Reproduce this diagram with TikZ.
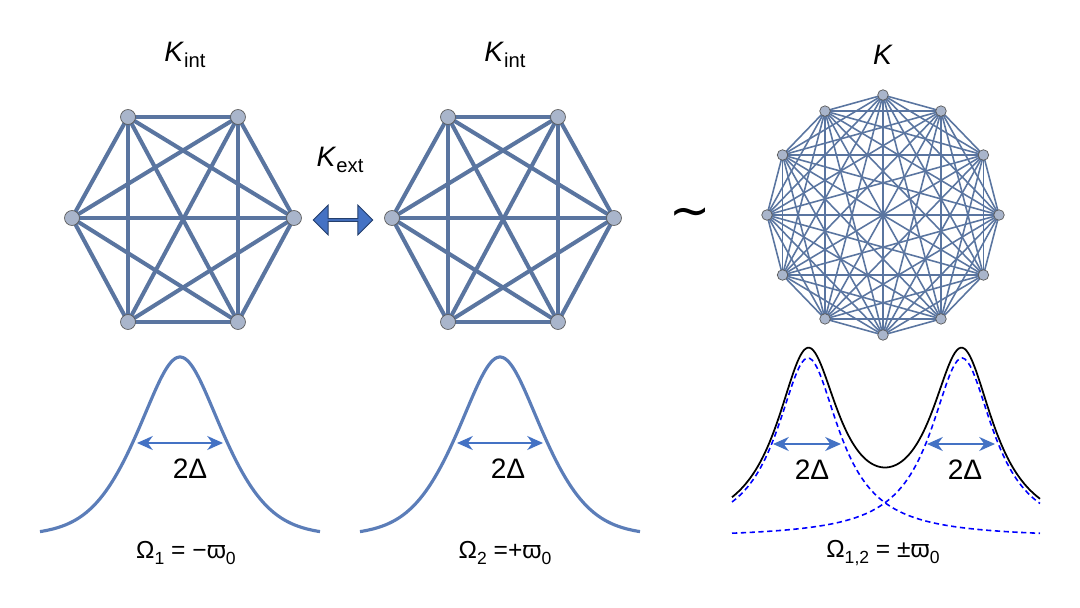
\documentclass[tikz,border=0pt]{standalone}
\usepackage{fontspec}
\setmainfont{Liberation Sans}
\newfontfamily\djv{DejaVu Sans}
\usetikzlibrary{arrows.meta,shapes.arrows}
\definecolor{edgec}{HTML}{5A75A0}
\definecolor{nodec}{HTML}{A9B5CB}
\definecolor{curvec}{HTML}{5B7DB8}
\definecolor{arrc}{HTML}{4472C4}
\tikzset{
  thick edge/.style={draw=edgec,line width=2.3pt},
  thin edge/.style={draw=edgec,line width=0.9pt},
  gcurve/.style={draw=curvec,line width=1.8pt},
  warr/.style={draw=arrc,line width=1pt,{Stealth[length=9pt,width=8pt]}-{Stealth[length=9pt,width=8pt]}},
  lbl/.style={font=\fontsize{16}{19}\selectfont,inner sep=0pt},
  formula/.style={font=\fontsize{14}{17}\selectfont,inner sep=0pt},
  bigv/.style={circle,fill=nodec,draw=gray!70!black,line width=0.4pt,minimum size=8.5pt,inner sep=0pt},
  smallv/.style={circle,fill=nodec,draw=gray!70!black,line width=0.4pt,minimum size=6pt,inner sep=0pt}
}
\begin{document}
\begin{tikzpicture}[x=0.02cm,y=-0.02cm,
  declare function={voigt(\t,\c)=0.55*exp(-((\t-\c)/46)^2/2)+0.45/(1+((\t-\c)/44)^2);}]
\useasboundingbox (0,0) rectangle (1080,608);
\foreach \n/\x/\y in {1/128/117,2/238/117,3/294/218,4/238/322,5/128/322,6/72/218}{
  \coordinate (a\n) at (\x,\y);
  \coordinate (b\n) at (\x+320,\y);
}
\foreach \i in {1,...,6}{\foreach \j in {\i,...,6}{
  \ifnum\i<\j \draw[thick edge] (a\i) -- (a\j); \draw[thick edge] (b\i) -- (b\j); \fi}}
\foreach \i in {1,...,6}{
  \node[bigv] (na\i) at (a\i) {};
  \node[bigv] (nb\i) at (b\i) {};
}
\foreach \i in {1,...,12}{
  \coordinate (c\i) at ({883+116*sin(30*(\i-1))},{215-120*cos(30*(\i-1))});
}
\foreach \i in {1,...,12}{\foreach \j in {\i,...,12}{
  \ifnum\i<\j \draw[thin edge] (c\i) -- (c\j); \fi}}
\foreach \i in {1,...,12}{
  \node[smallv] (nc\i) at (c\i) {};
}
\node[lbl] (k1) at (185,55) {\textit{K}\raisebox{-0.45ex}{\fontsize{11.5}{13}\selectfont int}};
\node[lbl] (k2) at (505,55) {\textit{K}\raisebox{-0.45ex}{\fontsize{11.5}{13}\selectfont int}};
\node[lbl] (k3) at (883,55) {\textit{K}};
\node[lbl] (kx) at (340,160) {\textit{K}\raisebox{-0.45ex}{\fontsize{11.5}{13}\selectfont ext}};
\node[double arrow,fill=arrc,draw=arrc!55!black,line width=0.5pt,minimum width=17pt,minimum height=34pt,double arrow head extend=2.5pt,inner sep=0pt] (dar) at (343,220) {};
\node[font=\djv\fontsize{28}{28}\selectfont,inner sep=0pt] (tl) at (690,218) {∼};
\draw[gcurve] plot[domain=40:320,samples=140] (\x,{540-183*voigt(\x,180)});
\draw[gcurve] plot[domain=360:640,samples=140] (\x,{540-183*voigt(\x,500)});
\coordinate (l1) at (137,443); \coordinate (r1) at (223,443);
\coordinate (l2) at (457,443); \coordinate (r2) at (543,443);
\draw[warr] (l1) -- (r1);
\draw[warr] (l2) -- (r2);
\node[lbl] (d1) at (190,469) {2Δ};
\node[lbl] (d2) at (508,469) {2Δ};
\draw[blue,line width=0.9pt,dash pattern=on 3pt off 2pt] plot[domain=732:1040,samples=120] (\x,{538-180/(1+((\x-808)/38)^2)});
\draw[blue,line width=0.9pt,dash pattern=on 3pt off 2pt] plot[domain=732:1040,samples=120] (\x,{538-180/(1+((\x-962)/38)^2)});
\draw[black,line width=1pt] plot[domain=732:1040,samples=160] (\x,{538-180/(1+((\x-808)/38)^2)-180/(1+((\x-962)/38)^2)});
\coordinate (l3) at (773,444); \coordinate (r3) at (841,444);
\coordinate (l4) at (927,444); \coordinate (r4) at (995,444);
\draw[warr] (l3) -- (r3);
\draw[warr] (l4) -- (r4);
\node[lbl] (d3) at (812,470) {2Δ};
\node[lbl] (d4) at (965,470) {2Δ};
\node[formula] (f1) at (186,553) {Ω\raisebox{-0.4ex}{\fontsize{10}{12}\selectfont 1} = −ϖ\raisebox{-0.4ex}{\fontsize{10}{12}\selectfont 0}};
\node[formula] (f2) at (505,553) {Ω\raisebox{-0.4ex}{\fontsize{10}{12}\selectfont 2} =+ϖ\raisebox{-0.4ex}{\fontsize{10}{12}\selectfont 0}};
\node[formula] (f3) at (883,553) {Ω\raisebox{-0.4ex}{\fontsize{10}{12}\selectfont 1,2} = ±ϖ\raisebox{-0.4ex}{\fontsize{10}{12}\selectfont 0}};
\end{tikzpicture}
\end{document}
